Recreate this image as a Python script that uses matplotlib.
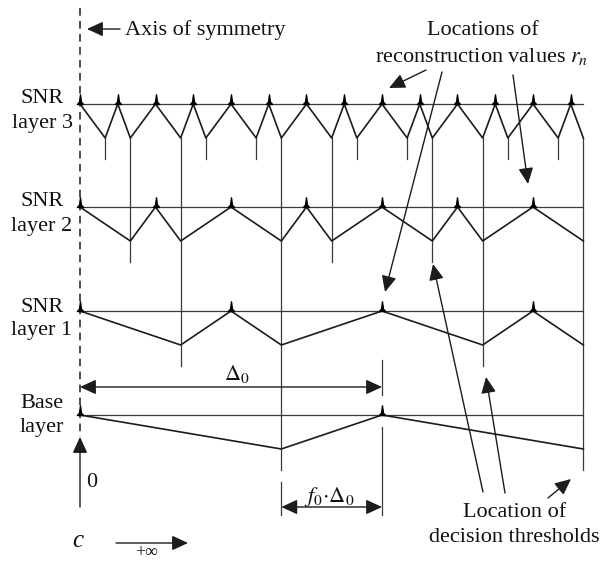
import matplotlib
matplotlib.use("Agg")
import matplotlib.pyplot as plt
from matplotlib.path import Path
from matplotlib.transforms import Affine2D

plt.rcParams['font.family'] = ['Liberation Serif', 'DejaVu Serif']
plt.rcParams['mathtext.fontset'] = 'stix'

# ---------------- data (positions in units of Delta_0) ----------------
layer_names = ["Base\nlayer", "SNR\nlayer 1", "SNR\nlayer 2", "SNR\nlayer 3"]

recon_base = [0, 1]
recon_l1 = [0, 1/2, 1, 3/2]
recon_l2 = [0, 1/4, 1/2, 3/4, 1, 5/4, 3/2]
recon_l3 = [0, 1/8, 2/8, 3/8, 4/8, 5/8, 6/8, 7/8, 1, 9/8, 10/8, 11/8, 12/8, 13/8]

thr_base = [2/3, 5/3]
thr_l1 = [1/3, 2/3, 4/3, 5/3]
thr_l2 = [1/6, 1/3, 2/3, 5/6, 7/6, 4/3, 5/3]
thr_l3 = [1/12, 1/6, 1/3, 5/12, 7/12, 2/3, 5/6, 11/12, 13/12, 7/6, 4/3, 17/12, 19/12, 5/3]

delta0 = 1.0
f0 = 1/3
x_end = 5/3

recons = [recon_base, recon_l1, recon_l2, recon_l3]
thrs = [thr_base, thr_l1, thr_l2, thr_l3]

# ---------------- layout (pixels) ----------------
W, H = 603, 563
X0, UNIT = 80, 302
layer_top = [415, 311, 207, 104]
DROP = 34
EXT = 21
INK = '#1c1c1c'
THIN = '#3a3a3a'
FS = 16

fig = plt.figure(figsize=(W / 100, H / 100), dpi=100)
ax = fig.add_axes([0, 0, 1, 1])
ax.set_xlim(-X0 / UNIT, (W - X0) / UNIT)
ax.set_ylim(H, 0)
ax.axis('off')

pix = Affine2D().scale(1 / W, -1 / H).translate(0, 1) + fig.transFigure

spike = Path([(-0.32, 0), (-0.1, 0.25), (0, 1), (0.1, 0.25), (0.32, 0), (-0.32, 0)],
             [Path.MOVETO, Path.LINETO, Path.LINETO, Path.LINETO, Path.LINETO, Path.CLOSEPOLY])

def layer_of(t):
    for i, th in enumerate(thrs):
        if any(abs(t - v) < 1e-9 for v in th):
            return i
    return 3

# horizontal lines, zigzags, markers
for i in range(4):
    top = layer_top[i]
    ax.plot([0, x_end], [top, top], color=THIN, lw=0.9, zorder=2)
    pts = sorted([(x, top) for x in recons[i]] + [(x, top + DROP) for x in thrs[i]])
    ax.plot([p[0] for p in pts], [p[1] for p in pts], color=INK, lw=1.2, zorder=3)
    ax.plot(recons[i], [top] * len(recons[i]), linestyle='none', marker=spike,
            ms=14, color='black', zorder=5)

# vertical threshold lines
v_top = layer_top[3] + DROP
for t in thr_l3:
    li = layer_of(t)
    ax.plot([t, t], [v_top, layer_top[li] + DROP + EXT], color=THIN, lw=0.9, zorder=1)

# dimension extension lines
ax.plot([delta0, delta0], [360, 395], color=THIN, lw=0.9)
ax.plot([delta0, delta0], [427, 515], color=THIN, lw=0.9)
ax.plot([delta0 * (1 - f0)] * 2, [482, 515], color=THIN, lw=0.9)

# axis of symmetry
ax.plot([0, 0], [8, 437], color=INK, lw=1.1, linestyle=(0, (5, 3.5)), zorder=1)

head = '-|>,head_length=0.65,head_width=0.3'
dhead = '<|-|>,head_length=0.65,head_width=0.3'
aprops = dict(arrowstyle=head, color=INK, lw=1.0, mutation_scale=15, shrinkA=0, shrinkB=0)
dprops = dict(arrowstyle=dhead, color=INK, lw=1.0, mutation_scale=15, shrinkA=0, shrinkB=0)

# dimension arrows
ax.annotate('', xy=(delta0, 387), xytext=(0, 387), arrowprops=dprops)
ax.annotate('', xy=(delta0, 507), xytext=(delta0 * (1 - f0), 507), arrowprops=dprops)

# pixel-space arrows
def parrow(tail, tip):
    ax.annotate('', xy=tip, xycoords=pix, xytext=tail, textcoords=pix, arrowprops=aprops)

parrow((120, 29), (87, 29))
parrow((80, 507), (80, 437))
parrow((116, 543), (188, 543))
parrow((426, 70), (389, 88))
parrow((442, 72), (385, 292))
parrow((513, 75), (528, 184))
parrow((483, 492), (433, 264))
parrow((505, 493), (486, 377))
parrow((548, 498), (571, 479))

def ptext(x, y, s, **kw):
    kw.setdefault('ha', 'center')
    kw.setdefault('va', 'baseline')
    ax.text(x, y, s, transform=pix, fontsize=kw.pop('fs', FS), color='#111111', **kw)

# layer labels
label_base = [(408, 432), (312, 335), (206, 231), (103, 128)]
for name, (b1, b2) in zip(layer_names, label_base):
    l1, l2 = name.split('\n')
    ptext(42, b1, l1)
    ptext(42, b2, l2)

ptext(125, 35, 'Axis of symmetry', ha='left')
ptext(483, 35, 'Locations of')
ptext(482, 62, 'reconstruction values $r_n$')
ptext(515, 517, 'Location of')
ptext(514, 542, 'decision thresholds')
ptext(237, 380, r'$\Delta_0$')
ptext(329, 502, r'$f_0{\cdot}\Delta_0$')
ptext(92, 487, '0')
ptext(78, 547, 'c', fontstyle='italic', fs=18)
ptext(147, 557, '+∞', fs=13)

fig.savefig('out.png', dpi=100, facecolor='white')
